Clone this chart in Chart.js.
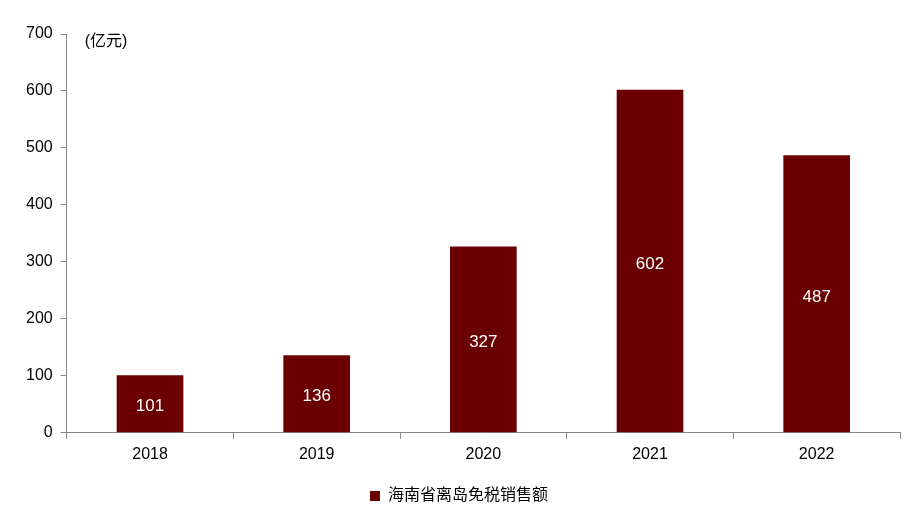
<!DOCTYPE html>
<html><head><meta charset="utf-8">
<script src="https://cdn.jsdelivr.net/npm/chart.js@4"></script>
<style>body{margin:0;background:#fff}#wrap{width:912px;height:522px}</style>
</head><body><div id="wrap"><canvas id="c"></canvas></div>
<script>
const years = ['2018', '2019', '2020', '2021', '2022'];
const sales = [101, 136, 327, 602, 487];
const yTicks = [0, 100, 200, 300, 400, 500, 600, 700];

const FONT = '"Liberation Sans", Arial, "Noto Sans CJK SC", sans-serif';

const labelsPlugin = {
    id: 'labels',
    afterDatasetsDraw(chart) {
        const ctx = chart.ctx;
        const meta = chart.getDatasetMeta(0);
        ctx.save();
        ctx.font = '17px ' + FONT;
        ctx.fillStyle = '#fff';
        ctx.textAlign = 'center';
        ctx.textBaseline = 'middle';
        meta.data.forEach((bar, i) => {
            ctx.fillText(sales[i], bar.x, (bar.y + bar.base) / 2 + 3);
        });
        // unit label
        ctx.fillStyle = '#000';
        ctx.font = '16px ' + FONT;
        ctx.textAlign = 'left';
        ctx.fillText('(亿元)', chart.chartArea.left + 18, chart.chartArea.top + 8);
        ctx.restore();
    }
};

new Chart(document.getElementById('c'), {
    type: 'bar',
    data: {
        labels: years,
        datasets: [{
            label: '海南省离岛免税销售额',
            data: sales,
            backgroundColor: '#6b0000',
            categoryPercentage: 0.4,
            barPercentage: 1
        }]
    },
    options: {
        responsive: true,
        maintainAspectRatio: false,
        animation: false,
        layout: { padding: { top: 34, right: 12, left: 18, bottom: 8 } },
        plugins: {
            legend: {
                position: 'bottom',
                labels: { boxWidth: 10, boxHeight: 10, padding: 18, color: '#000', font: { size: 16, family: FONT } }
            },
            tooltip: { enabled: false }
        },
        scales: {
            x: {
                grid: { offset: true, drawOnChartArea: false, color: '#888', tickLength: 6 },
                border: { color: '#888' },
                ticks: { color: '#000', padding: 6, font: { size: 16, family: FONT } }
            },
            y: {
                min: 0, max: 700,
                afterBuildTicks(axis) { axis.ticks = yTicks.map(v => ({ value: v })); },
                grid: { drawOnChartArea: false, color: '#888', tickLength: 6 },
                border: { color: '#888' },
                ticks: { color: '#000', padding: 8, font: { size: 16, family: FONT } }
            }
        }
    },
    plugins: [labelsPlugin]
});
</script></body></html>
